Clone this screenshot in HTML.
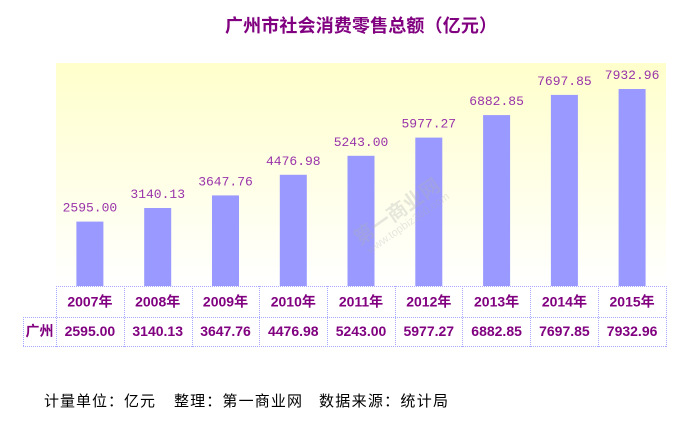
<!DOCTYPE html>
<html><head><meta charset="utf-8"><style>
html,body{margin:0;padding:0;background:#fff;}
svg{display:block;}
</style></head><body>
<svg width="685" height="421" viewBox="0 0 685 421" xmlns="http://www.w3.org/2000/svg">
<defs>
<linearGradient id="bg" x1="0" y1="0" x2="0" y2="1">
<stop offset="0" stop-color="#ffffcc"/>
<stop offset="1" stop-color="#ffffff"/>
</linearGradient>
</defs>
<rect x="0" y="0" width="685" height="421" fill="#fff"/>
<text x="225" y="32" font-family="'Liberation Sans','Noto Sans CJK SC',sans-serif" font-size="18" font-weight="bold" fill="#800080" textLength="272" lengthAdjust="spacing">广州市社会消费零售总额（亿元）</text>
<rect x="56" y="63" width="610" height="223" fill="url(#bg)"/>
<g fill="#9999ff">
<rect x="76.4" y="221.6" width="27" height="64.4"/>
<rect x="144.2" y="208" width="27" height="78"/>
<rect x="212" y="195.4" width="27" height="90.6"/>
<rect x="279.8" y="174.8" width="27" height="111.2"/>
<rect x="347.5" y="155.8" width="27" height="130.2"/>
<rect x="415.3" y="137.6" width="27" height="148.4"/>
<rect x="483.1" y="115.1" width="27" height="170.9"/>
<rect x="550.9" y="94.9" width="27" height="191.1"/>
<rect x="618.6" y="89" width="27" height="197"/>
</g>
<g font-family="'Noto Sans CJK SC',sans-serif" fill="#b0b0b0" opacity="0.3">
<text x="360" y="246" font-size="20" font-weight="bold" transform="rotate(-35 360 246)">第一商业网</text>
<text x="370" y="254" font-size="11" font-family="'Liberation Sans',sans-serif" transform="rotate(-35 370 254)">www.topbiz360.com</text>
</g>
<g font-family="'Liberation Mono',monospace" font-size="13" fill="#9933aa" text-anchor="middle">
<text x="89.9" y="211.6">2595.00</text>
<text x="157.7" y="198">3140.13</text>
<text x="225.5" y="185.4">3647.76</text>
<text x="293.3" y="164.8">4476.98</text>
<text x="361" y="145.8">5243.00</text>
<text x="428.8" y="127.6">5977.27</text>
<text x="496.6" y="105.1">6882.85</text>
<text x="564.4" y="84.9">7697.85</text>
<text x="632.1" y="79">7932.96</text>
</g>
<g stroke="#a8a8ff" stroke-width="1" stroke-dasharray="1,1" fill="none">
<line x1="56" y1="286.5" x2="666" y2="286.5"/>
<line x1="23" y1="317.5" x2="666" y2="317.5"/>
<line x1="23" y1="346.5" x2="666" y2="346.5"/>
<line x1="23.5" y1="317" x2="23.5" y2="347"/>
<line x1="56.5" y1="286" x2="56.5" y2="347"/>
<line x1="124.5" y1="286" x2="124.5" y2="347"/>
<line x1="192.5" y1="286" x2="192.5" y2="347"/>
<line x1="259.5" y1="286" x2="259.5" y2="347"/>
<line x1="327.5" y1="286" x2="327.5" y2="347"/>
<line x1="395.5" y1="286" x2="395.5" y2="347"/>
<line x1="462.5" y1="286" x2="462.5" y2="347"/>
<line x1="530.5" y1="286" x2="530.5" y2="347"/>
<line x1="598.5" y1="286" x2="598.5" y2="347"/>
<line x1="666.5" y1="286" x2="666.5" y2="347"/>
</g>
<g font-family="'Liberation Sans','Noto Sans CJK SC',sans-serif" font-size="14" font-weight="bold" fill="#800080" text-anchor="middle">
<text x="89.9" y="306.7">2007年</text>
<text x="157.7" y="306.7">2008年</text>
<text x="225.5" y="306.7">2009年</text>
<text x="293.3" y="306.7">2010年</text>
<text x="361" y="306.7">2011年</text>
<text x="428.8" y="306.7">2012年</text>
<text x="496.6" y="306.7">2013年</text>
<text x="564.4" y="306.7">2014年</text>
<text x="632.1" y="306.7">2015年</text>
<text x="39.5" y="336">广州</text>
<text x="89.9" y="336">2595.00</text>
<text x="157.7" y="336">3140.13</text>
<text x="225.5" y="336">3647.76</text>
<text x="293.3" y="336">4476.98</text>
<text x="361" y="336">5243.00</text>
<text x="428.8" y="336">5977.27</text>
<text x="496.6" y="336">6882.85</text>
<text x="564.4" y="336">7697.85</text>
<text x="632.1" y="336">7932.96</text>
</g>
<g font-family="'Liberation Sans','Noto Sans CJK SC',sans-serif" font-size="15" fill="#000">
<text x="44" y="406" textLength="111" lengthAdjust="spacing">计量单位：亿元</text>
<text x="174" y="406" textLength="128" lengthAdjust="spacing">整理：第一商业网</text>
<text x="319" y="406" textLength="129" lengthAdjust="spacing">数据来源：统计局</text>
</g>
</svg>
</body></html>
